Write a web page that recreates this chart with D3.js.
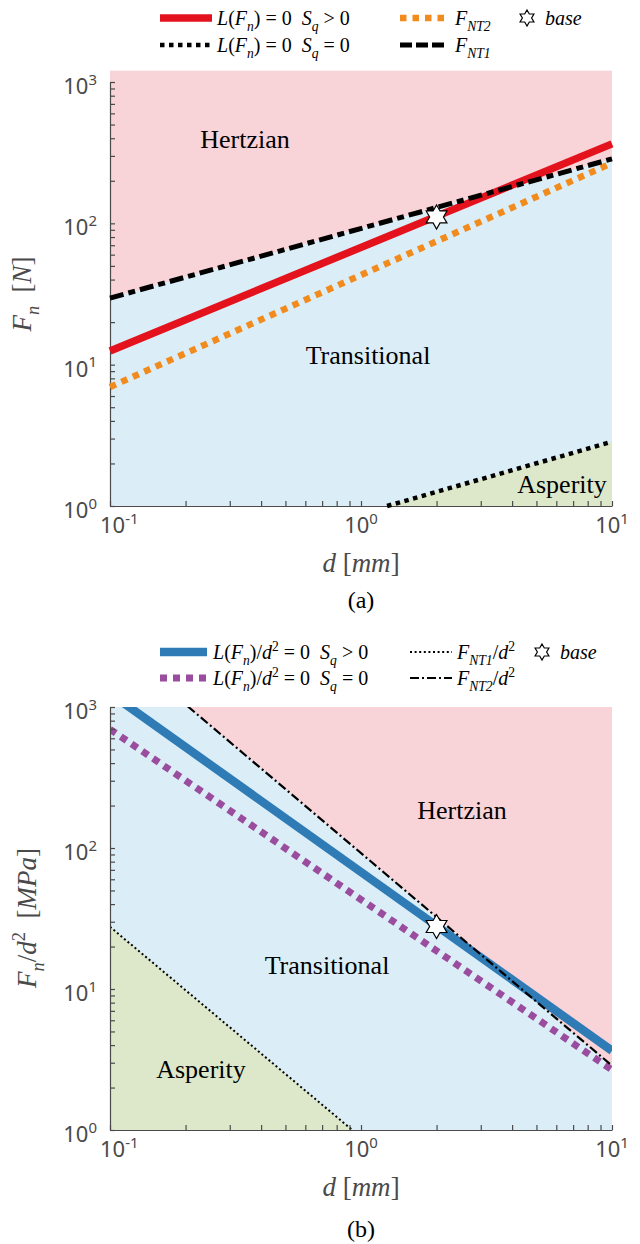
<!DOCTYPE html>
<html>
<head>
<meta charset="utf-8">
<script src="https://cdn.jsdelivr.net/npm/d3@7"></script>
<style>
  body { margin: 0; background: #fff; }
  text { white-space: pre; }
</style>
</head>
<body>
<svg id="fig" width="640" height="1244"></svg>
<script>
// ---------- shared axis data ----------
const dDomain = [0.1, 10];          // d [mm]
const yDomain = [1, 1000];
const xMajor = [0.1, 1, 10];
const yMajor = [1, 10, 100, 1000];

// ---------- panel (a): F_n [N] versus d ----------
const aD = [0.1, 10];
const aLSqPos = [12.5, 365];        // L(F_n)=0, S_q>0
const aFNT2 = [6.95, 267];
const aFNT1 = [29.6, 286];
const aLSq0D = [1.27, 10];
const aLSq0 = [1, 2.85];            // L(F_n)=0, S_q=0
const aBase = { d: 2, v: 111 };
const aFillTop = 1200;              // pink patch runs a little past the top tick

// ---------- panel (b): F_n/d^2 [MPa] versus d ----------
const bD = [0.1, 10];
const bLSqPos = [1250, 3.65];       // L(F_n)/d^2=0, S_q>0
const bLSq0 = [695, 2.67];          // L(F_n)/d^2=0, S_q=0
const bFNT2 = [2960, 2.86];
const bFNT1D = [0.1, 0.923];
const bFNT1 = [27.6, 1];
const bBase = { d: 2, v: 27.75 };

// ---------- colours ----------
const C = {
  hertz: "#f8d3d8", trans: "#dbeef7", asp: "#dde8cb",
  red: "#e3121d", orange: "#f28b1e", blue: "#2f7bb6", purple: "#9a4d9e",
  axis: "#4a4a4a"
};

const svg = d3.select("#fig");
const serif = "'Liberation Serif', 'Times New Roman', serif";
const sans = "'Noto Sans', 'Open Sans', sans-serif";

// text with italic / sub / sup runs
function mathText(parent, x, y, parts, o) {
  const t = parent.append("text")
    .attr("x", x).attr("y", y)
    .attr("font-family", o.family || serif)
    .attr("font-size", o.size)
    .attr("fill", o.fill || "#000")
    .attr("text-anchor", o.anchor || "start");
  if (o.rotate) t.attr("transform", `rotate(-90 ${x} ${y})`);
  let shift = 0;
  parts.forEach(p => {
    const s = t.append("tspan").text(p.t);
    if (p.i) s.attr("font-style", "italic");
    const target = p.s === "sub" ? o.size * 0.28 : p.s === "sup" ? -o.size * 0.42 : 0;
    if (target !== shift) { s.attr("dy", target - shift); shift = target; }
    if (p.s) s.attr("font-size", o.size * 0.68);
  });
  return t;
}

function hexagram(R) {
  const r = R / Math.sqrt(3);
  const pts = d3.range(12).map(k => {
    const a = (-90 + k * 30) * Math.PI / 180;
    const rr = k % 2 === 0 ? R : r;
    return [rr * Math.cos(a), rr * Math.sin(a)];
  });
  return "M" + pts.map(p => p.join(",")).join("L") + "Z";
}

function logTicks(lo, hi) {
  const t = [];
  for (let e = Math.round(Math.log10(lo)); e < Math.round(Math.log10(hi)); e++)
    for (let m = 1; m <= 9; m++) t.push(m * Math.pow(10, e));
  t.push(hi);
  return t;
}

function drawAxes(g, x, y) {
  const [x0] = x.range();
  const [y0] = y.range();
  g.append("g").attr("transform", `translate(0,${y0})`)
    .call(d3.axisBottom(x).tickValues(logTicks(...dDomain)).tickSizeInner(-5).tickSizeOuter(0).tickFormat(() => ""))
    .call(s => s.selectAll("path,line").attr("stroke", C.axis).attr("stroke-width", 1.2));
  g.append("g").attr("transform", `translate(${x0},0)`)
    .call(d3.axisLeft(y).tickValues(logTicks(...yDomain)).tickSizeInner(-5).tickSizeOuter(0).tickFormat(() => ""))
    .call(s => s.selectAll("path,line").attr("stroke", C.axis).attr("stroke-width", 1.2));

  xMajor.forEach(v => {
    const t = mathText(g, x(v), y0 + 27, [{ t: "10" }, { t: String(Math.round(Math.log10(v))), s: "sup" }],
      { family: sans, size: 22, fill: C.axis, anchor: "middle" });
    // keep the first label clear of the y labels at the corner
    const bb = t.node().getBBox();
    if (bb.x < x0 - 10) t.attr("x", x(v) + (x0 - 10 - bb.x));
  });
  yMajor.forEach(v => {
    mathText(g, x0 - 13, y(v) + 12, [{ t: "10" }, { t: String(Math.round(Math.log10(v))), s: "sup" }],
      { family: sans, size: 22, fill: C.axis, anchor: "end" });
  });
}

function lineOf(x, y) {
  return d3.line().x(p => x(p[0])).y(p => y(p[1]));
}

function series(g, x, y, ds, vs, style) {
  g.append("path")
    .datum(d3.zip(ds, vs))
    .attr("d", lineOf(x, y))
    .attr("fill", "none")
    .attr("stroke", style.color)
    .attr("stroke-width", style.width)
    .attr("stroke-dasharray", style.dash || null)
    .attr("stroke-linecap", "butt");
}

function legendSample(g, x1, x2, yy, style) {
  g.append("line").attr("x1", x1).attr("x2", x2).attr("y1", yy).attr("y2", yy)
    .attr("stroke", style.color).attr("stroke-width", style.width)
    .attr("stroke-dasharray", style.dash || null);
}

// line styles
const S = {
  red: { color: C.red, width: 7.5 },
  blackDot: { color: "#000", width: 4.5, dash: "4.5,4.5" },
  orange: { color: C.orange, width: 6.5, dash: "6.5,6" },
  blackDashDot: { color: "#000", width: 5, dash: "14,5,7,5" },
  blue: { color: C.blue, width: 8.5 },
  purple: { color: C.purple, width: 7, dash: "7,6" },
  thinDot: { color: "#000", width: 2, dash: "2,2.6" },
  thinDashDot: { color: "#000", width: 2.2, dash: "9,3,2,3" }
};

// ================= panel (a) =================
{
  const g = svg.append("g");
  const x = d3.scaleLog().domain(dDomain).range([110, 612]);
  const y = d3.scaleLog().domain(yDomain).range([506, 82]);

  // regions
  g.append("rect").attr("x", x(dDomain[0])).attr("y", y(aFillTop))
    .attr("width", x(dDomain[1]) - x(dDomain[0])).attr("height", y(yDomain[0]) - y(aFillTop))
    .attr("fill", C.trans);
  const hz = d3.zip(aD, aFNT1).concat([[aD[1], aFillTop], [aD[0], aFillTop]]);
  g.append("path").attr("d", lineOf(x, y)(hz) + "Z").attr("fill", C.hertz);
  const as = d3.zip(aLSq0D, aLSq0).concat([[aLSq0D[1], yDomain[0]]]);
  g.append("path").attr("d", lineOf(x, y)(as) + "Z").attr("fill", C.asp);

  // region names
  const lab = (tx, xx, yy) => g.append("text").attr("x", xx).attr("y", yy).attr("text-anchor", "middle")
    .attr("font-family", serif).attr("font-size", 26).text(tx);
  lab("Hertzian", 245, 148);
  lab("Transitional", 368, 364);
  lab("Asperity", 562, 493);

  drawAxes(g, x, y);

  series(g, x, y, aD, aLSqPos, S.red);
  series(g, x, y, aLSq0D, aLSq0, S.blackDot);
  series(g, x, y, aD, aFNT2, S.orange);
  series(g, x, y, aD, aFNT1, S.blackDashDot);

  g.append("path").attr("d", hexagram(12))
    .attr("transform", `translate(${x(aBase.d)},${y(aBase.v)})`)
    .attr("fill", "#fff").attr("stroke", "#000").attr("stroke-width", 1.2);

  // axis titles
  mathText(g, 31, 294, [{ t: "F", i: 1 }, { t: "n", i: 1, s: "sub" }, { t: "  [" }, { t: "N", i: 1 }, { t: "]" }],
    { size: 27, fill: C.axis, anchor: "middle", rotate: true });
  mathText(g, 361, 572, [{ t: "d", i: 1 }, { t: " [" }, { t: "mm", i: 1 }, { t: "]" }],
    { size: 27, fill: C.axis, anchor: "middle" });
  g.append("text").attr("x", 361).attr("y", 608).attr("text-anchor", "middle")
    .attr("font-family", serif).attr("font-size", 24).text("(a)");

  // legend
  const L = g.append("g");
  legendSample(L, 160, 212, 18, S.red);
  mathText(L, 217, 25, [{ t: "L", i: 1 }, { t: "(" }, { t: "F", i: 1 }, { t: "n", i: 1, s: "sub" }, { t: ") = 0  " },
    { t: "S", i: 1 }, { t: "q", i: 1, s: "sub" }, { t: " > 0" }], { size: 20 });
  legendSample(L, 160, 212, 45, S.blackDot);
  mathText(L, 217, 52, [{ t: "L", i: 1 }, { t: "(" }, { t: "F", i: 1 }, { t: "n", i: 1, s: "sub" }, { t: ") = 0  " },
    { t: "S", i: 1 }, { t: "q", i: 1, s: "sub" }, { t: " = 0" }], { size: 20 });
  legendSample(L, 400, 447, 18, S.orange);
  mathText(L, 455, 25, [{ t: "F", i: 1 }, { t: "NT2", i: 1, s: "sub" }], { size: 20 });
  legendSample(L, 400, 447, 45, { color: "#000", width: 5, dash: "12,4" });
  mathText(L, 455, 52, [{ t: "F", i: 1 }, { t: "NT1", i: 1, s: "sub" }], { size: 20 });
  L.append("path").attr("d", hexagram(8)).attr("transform", "translate(527,18)")
    .attr("fill", "#fff").attr("stroke", "#000").attr("stroke-width", 1.2);
  mathText(L, 545, 25, [{ t: "base", i: 1 }], { size: 20 });
}

// ================= panel (b) =================
{
  const g = svg.append("g");
  const x = d3.scaleLog().domain(dDomain).range([110, 612]);
  const y = d3.scaleLog().domain(yDomain).range([1130, 707]);

  svg.append("defs").append("clipPath").attr("id", "clipB").append("rect")
    .attr("x", 110).attr("y", 707).attr("width", 502).attr("height", 423);
  const p = g.append("g").attr("clip-path", "url(#clipB)");

  p.append("rect").attr("x", 110).attr("y", 707).attr("width", 502).attr("height", 423).attr("fill", C.trans);
  const hz = d3.zip(bD, bFNT2).concat([[bD[1], yDomain[1]], [bD[0], yDomain[1]]]);
  p.append("path").attr("d", lineOf(x, y)(hz) + "Z").attr("fill", C.hertz);
  const as = d3.zip(bFNT1D, bFNT1).concat([[bFNT1D[0], yDomain[0]]]);
  p.append("path").attr("d", lineOf(x, y)(as) + "Z").attr("fill", C.asp);

  const lab = (tx, xx, yy) => g.append("text").attr("x", xx).attr("y", yy).attr("text-anchor", "middle")
    .attr("font-family", serif).attr("font-size", 26).text(tx);
  lab("Hertzian", 462, 819);
  lab("Transitional", 327, 974);
  lab("Asperity", 201, 1078);

  drawAxes(g, x, y);

  series(p, x, y, bD, bLSqPos, S.blue);
  series(p, x, y, bD, bLSq0, S.purple);
  series(p, x, y, bFNT1D, bFNT1, S.thinDot);
  series(p, x, y, bD, bFNT2, S.thinDashDot);

  g.append("path").attr("d", hexagram(12))
    .attr("transform", `translate(${x(bBase.d)},${y(bBase.v)})`)
    .attr("fill", "#fff").attr("stroke", "#000").attr("stroke-width", 1.2);

  mathText(g, 36, 918, [{ t: "F", i: 1 }, { t: "n", i: 1, s: "sub" }, { t: "/" }, { t: "d", i: 1 }, { t: "2", s: "sup" },
    { t: "  [" }, { t: "MPa", i: 1 }, { t: "]" }], { size: 27, fill: C.axis, anchor: "middle", rotate: true });
  mathText(g, 361, 1196, [{ t: "d", i: 1 }, { t: " [" }, { t: "mm", i: 1 }, { t: "]" }],
    { size: 27, fill: C.axis, anchor: "middle" });
  g.append("text").attr("x", 361).attr("y", 1237).attr("text-anchor", "middle")
    .attr("font-family", serif).attr("font-size", 24).text("(b)");

  const L = g.append("g");
  legendSample(L, 160, 207, 652, S.blue);
  mathText(L, 213, 659, [{ t: "L", i: 1 }, { t: "(" }, { t: "F", i: 1 }, { t: "n", i: 1, s: "sub" }, { t: ")/" },
    { t: "d", i: 1 }, { t: "2", s: "sup" }, { t: " = 0  " }, { t: "S", i: 1 }, { t: "q", i: 1, s: "sub" }, { t: " > 0" }], { size: 20 });
  legendSample(L, 160, 207, 678, S.purple);
  mathText(L, 213, 685, [{ t: "L", i: 1 }, { t: "(" }, { t: "F", i: 1 }, { t: "n", i: 1, s: "sub" }, { t: ")/" },
    { t: "d", i: 1 }, { t: "2", s: "sup" }, { t: " = 0  " }, { t: "S", i: 1 }, { t: "q", i: 1, s: "sub" }, { t: " = 0" }], { size: 20 });
  legendSample(L, 410, 452, 652, S.thinDot);
  mathText(L, 457, 659, [{ t: "F", i: 1 }, { t: "NT1", i: 1, s: "sub" }, { t: "/" }, { t: "d", i: 1 }, { t: "2", s: "sup" }], { size: 20 });
  legendSample(L, 410, 452, 678, S.thinDashDot);
  mathText(L, 457, 685, [{ t: "F", i: 1 }, { t: "NT2", i: 1, s: "sub" }, { t: "/" }, { t: "d", i: 1 }, { t: "2", s: "sup" }], { size: 20 });
  L.append("path").attr("d", hexagram(8)).attr("transform", "translate(542,652)")
    .attr("fill", "#fff").attr("stroke", "#000").attr("stroke-width", 1.2);
  mathText(L, 560, 659, [{ t: "base", i: 1 }], { size: 20 });
}
</script>
</body>
</html>
